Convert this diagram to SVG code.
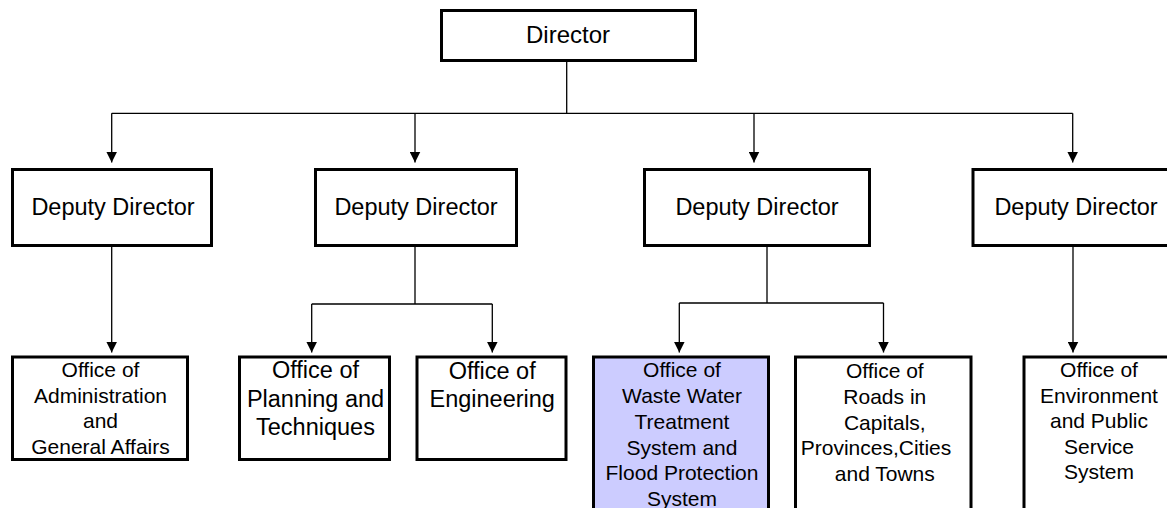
<svg xmlns="http://www.w3.org/2000/svg" width="1167" height="508" viewBox="0 0 1167 508">
<defs>
<marker id="arr" viewBox="0 0 11 11" refX="11" refY="5.5" markerWidth="11" markerHeight="11" markerUnits="userSpaceOnUse" orient="auto">
<path d="M0,0 L11,5.5 L0,11 Z" fill="#000"/>
</marker>
<style>
.box{fill:#fff;stroke:#000;stroke-width:3}
.hl{fill:#ccccff}
.t{font-family:"Liberation Sans",Arial,sans-serif;fill:#000;text-anchor:middle}
.big{font-size:24px}
.mid{font-size:23.5px}
.sm{font-size:21px}
.c{fill:none;stroke:#000;stroke-width:1.3}
.a{marker-end:url(#arr)}
</style>
</defs>
<rect width="1167" height="508" fill="#fff"/>
<g id="connectors">
<path class="c" d="M566.7,62 V113.3"/>
<path class="c" d="M111.7,113.3 H1072.7"/>
<path class="c a" d="M111.7,113.3 V162.5"/>
<path class="c a" d="M415,113.3 V162.5"/>
<path class="c a" d="M754,113.3 V162.5"/>
<path class="c a" d="M1072.7,113.3 V162.5"/>
<path class="c a" d="M111.7,247 V352.5"/>
<path class="c" d="M415,247 V304 M311.7,304 H492.3"/>
<path class="c a" d="M311.7,304 V352.5"/>
<path class="c a" d="M492.3,304 V352.5"/>
<path class="c" d="M767,247 V303 M679.3,303 H883.5"/>
<path class="c a" d="M679.3,303 V352.5"/>
<path class="c a" d="M883.5,303 V352.5"/>
<path class="c a" d="M1073,247 V352.5"/>
</g>
<g id="director">
<rect class="box" x="441.5" y="10.5" width="254" height="50"/>
<text class="t big" x="568" y="43.3">Director</text>
</g>
<g id="deputy1">
<rect class="box" x="12.5" y="169.5" width="199" height="76"/>
<text class="t mid" x="113" y="215">Deputy Director</text>
</g>
<g id="deputy2">
<rect class="box" x="315.5" y="169.5" width="201" height="76"/>
<text class="t mid" x="416" y="215">Deputy Director</text>
</g>
<g id="deputy3">
<rect class="box" x="644.5" y="169.5" width="225" height="76"/>
<text class="t mid" x="757" y="215">Deputy Director</text>
</g>
<g id="deputy4">
<rect class="box" x="973" y="169.5" width="210" height="76"/>
<text class="t mid" x="1076" y="215">Deputy Director</text>
</g>
<g id="office-admin">
<rect class="box" x="12.5" y="357" width="175" height="102.5"/>
<text class="t sm" x="100.5" y="376.7">Office of</text>
<text class="t sm" x="100.5" y="402.7">Administration</text>
<text class="t sm" x="100.5" y="428.3">and</text>
<text class="t sm" x="100.5" y="454">General Affairs</text>
</g>
<g id="office-planning">
<rect class="box" x="239.5" y="357" width="150" height="102.5"/>
<text class="t mid" x="315.5" y="378.3">Office of</text>
<text class="t mid" x="315.5" y="406.7">Planning and</text>
<text class="t mid" x="315.5" y="435">Techniques</text>
</g>
<g id="office-engineering">
<rect class="box" x="417" y="357" width="149" height="102.5"/>
<text class="t mid" x="492.2" y="378.6">Office of</text>
<text class="t mid" x="492.2" y="406.7">Engineering</text>
</g>
<g id="office-wastewater">
<rect class="box hl" x="593.5" y="357" width="175" height="170"/>
<text class="t sm" x="682" y="376.7">Office of</text>
<text class="t sm" x="682" y="403">Waste Water</text>
<text class="t sm" x="682" y="428.5">Treatment</text>
<text class="t sm" x="682" y="454.5">System and</text>
<text class="t sm" x="682" y="480">Flood Protection</text>
<text class="t sm" x="682" y="505.5">System</text>
</g>
<g id="office-roads">
<rect class="box" x="795.5" y="357" width="175.5" height="170"/>
<text class="t sm" x="884.8" y="378">Office of</text>
<text class="t sm" x="884.8" y="404">Roads in</text>
<text class="t sm" x="884.8" y="429.5">Capitals,</text>
<text class="t sm" x="876" y="455">Provinces,Cities</text>
<text class="t sm" x="884.8" y="480.7">and Towns</text>
</g>
<g id="office-environment">
<rect class="box" x="1024" y="357" width="160" height="170"/>
<text class="t sm" x="1099" y="376.7">Office of</text>
<text class="t sm" x="1099" y="402.7">Environment</text>
<text class="t sm" x="1099" y="428.3">and Public</text>
<text class="t sm" x="1099" y="454">Service</text>
<text class="t sm" x="1099" y="479.3">System</text>
</g>
</svg>
